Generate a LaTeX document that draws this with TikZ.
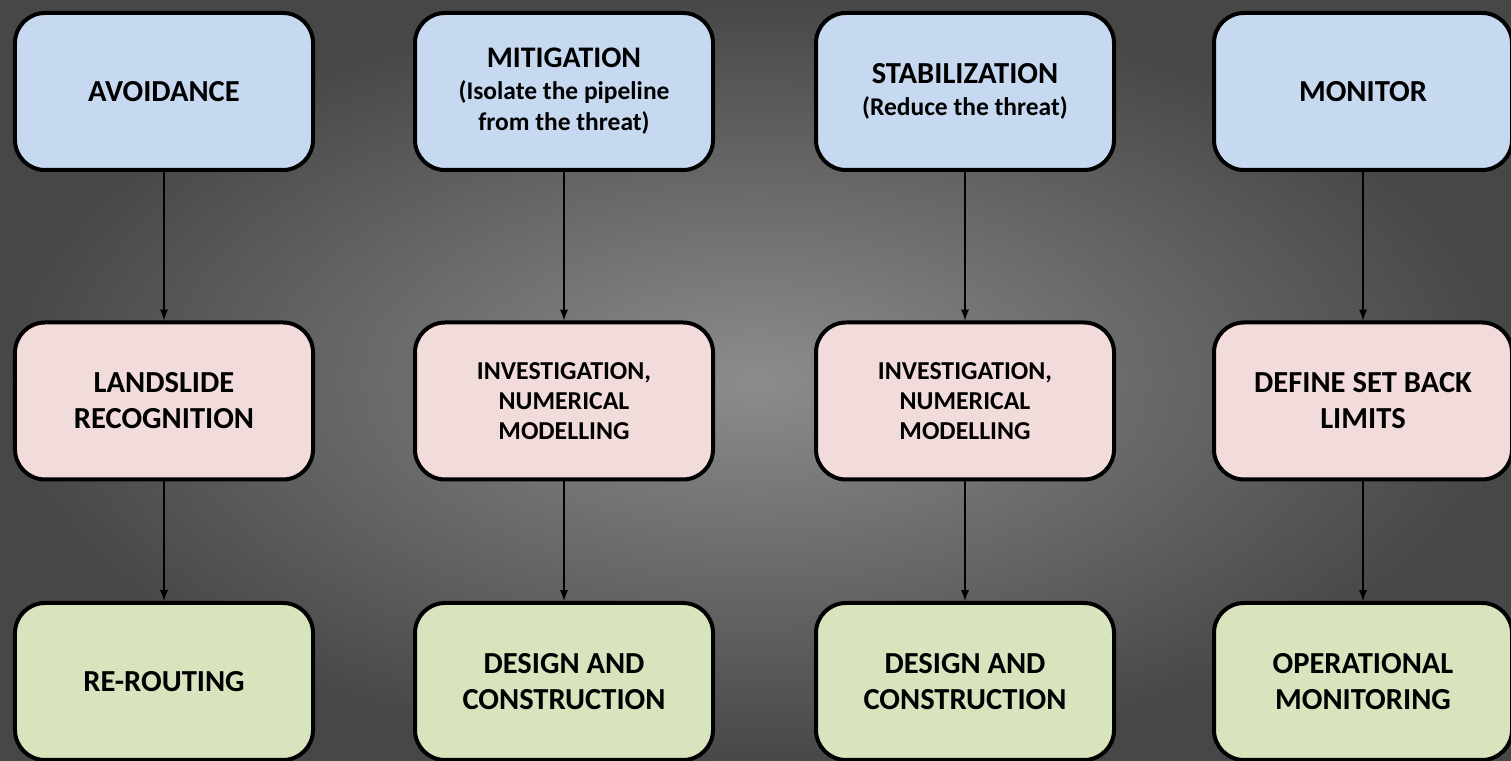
\documentclass[tikz,border=0pt]{standalone}
\usepackage{fontspec}
\setmainfont{Carlito}
\definecolor{topblue}{RGB}{198,217,241}
\definecolor{midpink}{RGB}{242,220,219}
\definecolor{botgreen}{RGB}{215,228,189}
\tikzset{
  box/.style={rectangle, rounded corners=0.6cm, draw=black, line width=0.08cm,
    minimum width=5.96cm, minimum height=3.14cm, align=center,
    font=\bfseries\fontsize{17.4}{20.5}\selectfont},
  topbox/.style={box, fill=topblue},
  midbox/.style={box, fill=midpink},
  botbox/.style={box, fill=botgreen},
  smalltxt/.style={font=\bfseries\fontsize{14.7}{17}\selectfont}
}
\begin{document}
\begin{tikzpicture}[>=latex]
\useasboundingbox (0,0) rectangle (30.22,15.22);
\shade[inner color=black!45, outer color=black!72] (0,0) rectangle (30.22,15.22);
% top row
\node[topbox, font=\bfseries\fontsize{17}{18}\selectfont] (mitig) at (11.28,13.39)
  {MITIGATION\\{\fontsize{14.5}{18}\selectfont(Isolate the pipeline}\\{\fontsize{14.5}{17.5}\selectfont from the threat)}};
\node[topbox] (avoid) at (3.28,13.39) {AVOIDANCE};
\node[topbox, font=\bfseries\fontsize{17.4}{18.2}\selectfont] (stabil) at (19.30,13.39)
  {STABILIZATION\\{\fontsize{14.5}{18.2}\selectfont(Reduce the threat)}};
\node[topbox] (monit) at (27.26,13.39) {MONITOR};
% middle row
\node[midbox] (recog) at (3.28,7.2) {LANDSLIDE\\RECOGNITION};
\node[midbox, smalltxt] (invest1) at (11.28,7.2) {INVESTIGATION,\\NUMERICAL\\MODELLING};
\node[midbox, smalltxt] (invest2) at (19.30,7.2) {INVESTIGATION,\\NUMERICAL\\MODELLING};
\node[midbox] (setback) at (27.26,7.2) {DEFINE SET BACK\\LIMITS};
% bottom row
\node[botbox] (reroute) at (3.28,1.59) {RE-ROUTING};
\node[botbox] (design1) at (11.28,1.59) {DESIGN AND\\CONSTRUCTION};
\node[botbox] (design2) at (19.30,1.59) {DESIGN AND\\CONSTRUCTION};
\node[botbox] (opmon) at (27.26,1.59) {OPERATIONAL\\MONITORING};
\foreach \a/\b in {avoid/recog,mitig/invest1,stabil/invest2,monit/setback,
  recog/reroute,invest1/design1,invest2/design2,setback/opmon}
{
    \draw[->, line width=0.04cm] (\a)--(\b);
}
\end{tikzpicture}
\end{document}
